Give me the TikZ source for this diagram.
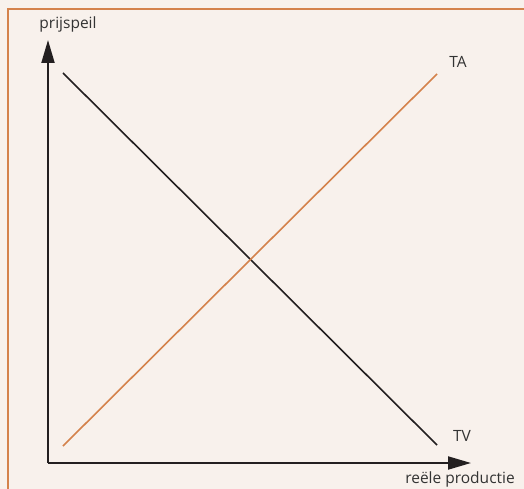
\documentclass[tikz,border=0pt]{standalone}
\usepackage{fontspec}
\setmainfont{Open Sans}
\usetikzlibrary{arrows.meta}
\definecolor{bgc}{HTML}{F8F1EC}
\definecolor{orng}{HTML}{D4824C}
\definecolor{ink}{HTML}{231F20}
\definecolor{txt}{HTML}{333333}
\tikzset{
  axis/.style={draw=ink, line width=2pt, -{Triangle[length=23pt,width=13pt]}},
  curve/.style={line width=1.6pt},
  lbl/.style={text=txt, font=\fontsize{15.5}{18}\selectfont, inner sep=0pt}
}
\begin{document}
\begin{tikzpicture}[x=1pt,y=-1pt]
\useasboundingbox (0,0) rectangle (524,489);
\fill[bgc] (0,0) rectangle (524,489);
\begin{scope}
\clip (0,0) rectangle (524,489);
\draw[orng, line width=2pt] (8,9) rectangle (540,510);
\end{scope}
\coordinate (O) at (48,463);
\coordinate (ytip) at (48,40);
\coordinate (xtip) at (471,463);
\draw[axis] (O) -- (ytip);
\draw[axis] (O) -- (xtip);
\coordinate (tvA) at (63,73);
\coordinate (tvB) at (437,445);
\coordinate (taA) at (63,446);
\coordinate (taB) at (437,74);
\draw[curve, ink] (tvA) -- (tvB);
\draw[curve, orng] (taA) -- (taB);
\node[lbl] (py) at (68,24) {prijspeil};
\node[lbl] (ta) at (458,62) {TA};
\node[lbl] (tv) at (462,436) {TV};
\node[lbl] (rp) at (460,479) {reële productie};
\end{tikzpicture}
\end{document}
